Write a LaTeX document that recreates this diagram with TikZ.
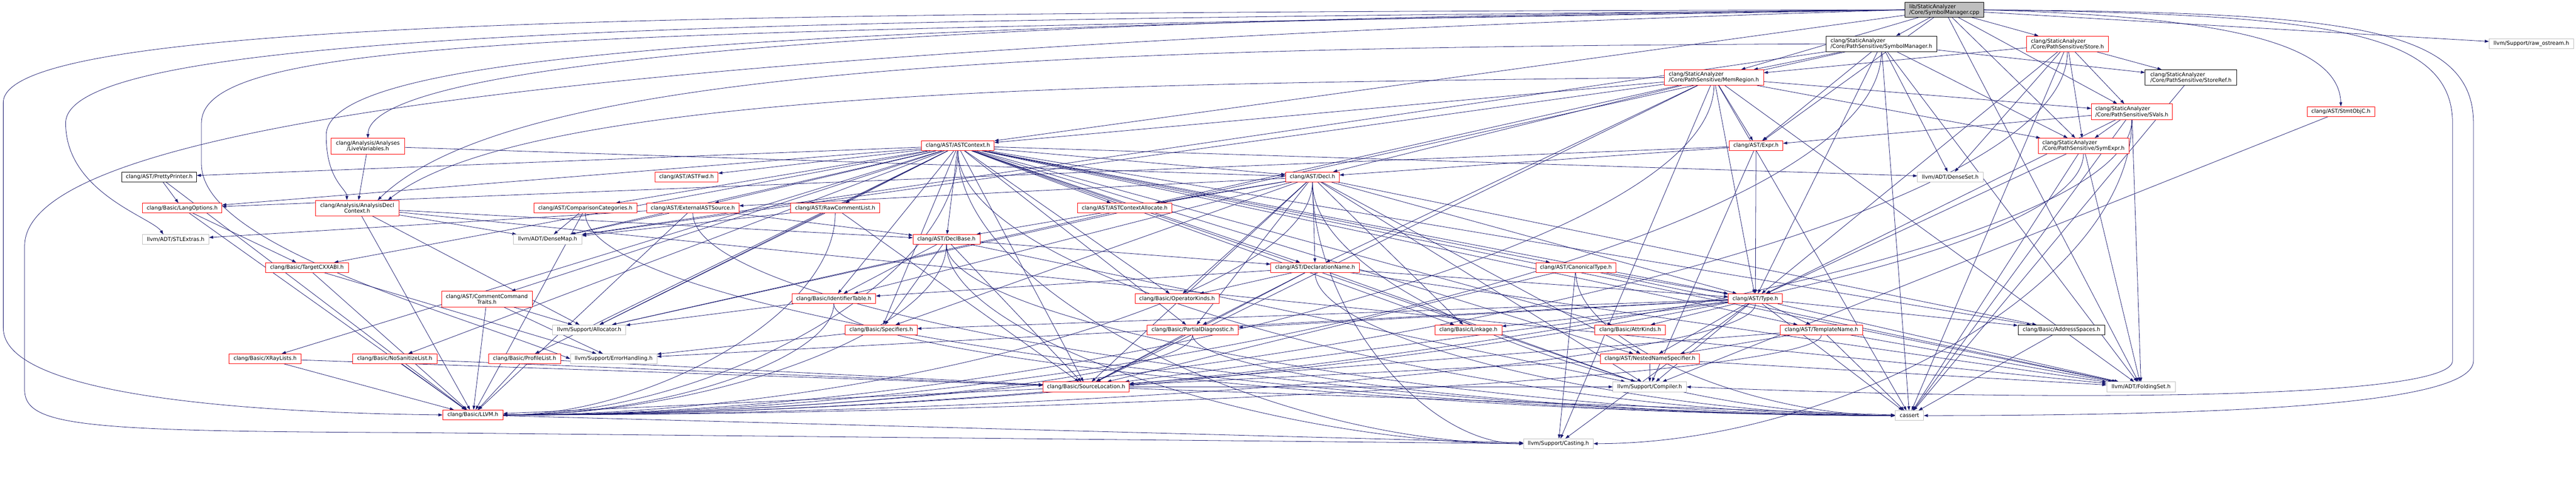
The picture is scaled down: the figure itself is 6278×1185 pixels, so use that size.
\documentclass[tikz,border=0pt]{standalone}
\usepackage{fontspec}
\setmainfont{DejaVu Sans}
\usetikzlibrary{arrows.meta}
\definecolor{edgec}{HTML}{191970}
\definecolor{grayb}{HTML}{BFBFBF}
\pgfdeclarelayer{bg}
\pgfsetlayers{bg,main}
\tikzset{
 nd/.style={rectangle, draw, line width=1pt, fill=white, inner sep=0pt, minimum height=24pt, font=\fontsize{13}{14}\selectfont},
 rn/.style={nd, draw=red},
 bn/.style={nd, draw=black},
 gn/.style={nd, draw=grayb},
 two/.style={minimum height=38pt, align=center},
 twol/.style={minimum height=38pt, align=left},
 e/.style={draw=edgec, line width=1pt, -{Triangle[length=10pt,width=7pt]}},
}
% #1 source, #2 target anchor, #3 drop below source, #4 signed horizontal lead into target
\newcommand\cv[4]{\draw[e] (#1.south) .. controls ([yshift=-#3pt]#1.south) and ([xshift=#4pt]#2) .. (#2);}
\begin{document}
\begin{tikzpicture}[x=1pt,y=-1pt]
\useasboundingbox (0,0) rectangle (6278,1185);
% nodes
\node[nd, fill=grayb, draw=black, twol, minimum height=36pt, minimum width=191pt] (root) at (4738.5,24) {lib/StaticAnalyzer\\/Core/SymbolManager.cpp};
\node[bn, twol, minimum width=270pt] (symmgrh) at (4585,107) {clang/StaticAnalyzer\\/Core/PathSensitive/SymbolManager.h};
\node[rn, twol, minimum width=199pt] (store) at (5038.5,107) {clang/StaticAnalyzer\\/Core/PathSensitive/Store.h};
\node[gn, minimum width=206pt] (rawos) at (6169,107) {llvm/Support/raw\_ostream.h};
\node[rn, twol, minimum width=242pt] (memregion) at (4177,189) {clang/StaticAnalyzer\\/Core/PathSensitive/MemRegion.h};
\node[bn, twol, minimum width=223pt] (storeref) at (5339.5,189) {clang/StaticAnalyzer\\/Core/PathSensitive/StoreRef.h};
\node[rn, twol, minimum width=197pt] (svals) at (5195.5,272.5) {clang/StaticAnalyzer\\/Core/PathSensitive/SVals.h};
\node[rn, minimum width=164pt] (stmtobjc) at (5705,272) {clang/AST/StmtObjC.h};
\node[rn, two, minimum width=179pt] (livevars) at (896.5,356.5) {clang/Analysis/Analyses\\/LiveVariables.h};
\node[rn, minimum width=177pt] (astctx) at (2334.5,355.5) {clang/AST/ASTContext.h};
\node[rn, minimum width=131pt] (expr) at (4279.5,355.5) {clang/AST/Expr.h};
\node[rn, twol, minimum width=221pt] (symexpr) at (5077.5,356) {clang/StaticAnalyzer\\/Core/PathSensitive/SymExpr.h};
\node[bn, minimum width=182pt] (pretty) at (388,431.5) {clang/AST/PrettyPrinter.h};
\node[rn, minimum width=154pt] (astfwd) at (1673,431.5) {clang/AST/ASTFwd.h};
\node[rn, minimum width=131pt] (decl) at (3198.5,431.5) {clang/AST/Decl.h};
\node[gn, minimum width=160pt] (denseset) at (4753,431.5) {llvm/ADT/DenseSet.h};
\node[rn, minimum width=194pt] (langopts) at (444,507.5) {clang/Basic/LangOptions.h};
\node[rn, two, minimum width=203pt] (adc) at (870.5,507.5) {clang/Analysis/AnalysisDecl\\Context.h};
\node[rn, minimum width=251pt] (cmpcat) at (1426.5,507.5) {clang/AST/ComparisonCategories.h};
\node[rn, minimum width=225pt] (extast) at (1688.5,507.5) {clang/AST/ExternalASTSource.h};
\node[rn, minimum width=217pt] (rawcomment) at (2035.5,507.5) {clang/AST/RawCommentList.h};
\node[rn, minimum width=230pt] (astalloc) at (2741,507.5) {clang/AST/ASTContextAllocate.h};
\node[gn, minimum width=162pt] (stlextras) at (428,584) {llvm/ADT/STLExtras.h};
\node[gn, minimum width=167pt] (densemap) at (1334.5,584) {llvm/ADT/DenseMap.h};
\node[rn, minimum width=163pt] (declbase) at (2306.5,584) {clang/AST/DeclBase.h};
\node[rn, minimum width=202pt] (tcxxabi) at (748,652.5) {clang/Basic/TargetCXXABI.h};
\node[rn, minimum width=216pt] (declname) at (3205,652.5) {clang/AST/DeclarationName.h};
\node[rn, minimum width=195pt] (canon) at (3840.5,652.5) {clang/AST/CanonicalType.h};
\node[rn, two, minimum width=221pt] (cct) at (1186.5,729.5) {clang/AST/CommentCommand\\Traits.h};
\node[rn, minimum width=204pt] (idtable) at (2032,728.5) {clang/Basic/IdentifierTable.h};
\node[rn, minimum width=205pt] (opkinds) at (2868.5,728.5) {clang/Basic/OperatorKinds.h};
\node[rn, minimum width=132pt] (type) at (4278,728.5) {clang/AST/Type.h};
\node[gn, minimum width=178pt] (allocator) at (1436,804.5) {llvm/Support/Allocator.h};
\node[rn, minimum width=175pt] (specifiers) at (2147.5,804.5) {clang/Basic/Specifiers.h};
\node[rn, minimum width=223pt] (pdiag) at (2906.5,804.5) {clang/Basic/PartialDiagnostic.h};
\node[rn, minimum width=163pt] (linkage) at (3578.5,804.5) {clang/Basic/Linkage.h};
\node[rn, minimum width=172pt] (attrkinds) at (3973,804.5) {clang/Basic/AttrKinds.h};
\node[rn, minimum width=202pt] (tname) at (4439,804.5) {clang/AST/TemplateName.h};
\node[bn, minimum width=212pt] (addrsp) at (5024,804.5) {clang/Basic/AddressSpaces.h};
\node[rn, minimum width=176pt] (xray) at (646,875) {clang/Basic/XRayLists.h};
\node[rn, minimum width=206pt] (nosan) at (962,875) {clang/Basic/NoSanitizeList.h};
\node[rn, minimum width=175pt] (proflist) at (1278.5,875) {clang/Basic/ProfileList.h};
\node[gn, minimum width=211pt] (errh) at (1495.5,875) {llvm/Support/ErrorHandling.h};
\node[rn, minimum width=242pt] (nns) at (4021,875) {clang/AST/NestedNameSpecifier.h};
\node[rn, minimum width=210pt] (srcloc) at (2647,943.5) {clang/Basic/SourceLocation.h};
\node[gn, minimum width=179pt] (compiler) at (4020.5,943.5) {llvm/Support/Compiler.h};
\node[gn, minimum width=168pt] (folding) at (5218,943.5) {llvm/ADT/FoldingSet.h};
\node[rn, minimum width=147pt] (llvmh) at (1152.5,1012) {clang/Basic/LLVM.h};
\node[gn, minimum width=69pt] (cassert) at (4653.5,1013.5) {cassert};
\node[gn, minimum width=170pt] (casting) at (3798,1082) {llvm/Support/Casting.h};
% edges
\begin{pgfonlayer}{bg}
\fill[white] (0,0) rectangle (6278,1185);
% root
\foreach \t in {symmgrh,store,memregion,expr,astctx,svals,symexpr,folding,rawos} \draw[e] (root) -- (\t);
\draw[e] (root.west) .. controls (2500,40) and (900,130) .. (livevars.north);
\draw[e] (root.west) .. controls (2000,60) and (795,120) .. (795,330) .. controls (795,440) and (845,460) .. ([xshift=-25pt]adc.north);
\draw[e] (root.west) .. controls (2000,50) and (160,60) .. (160,300) .. controls (160,470) and (370,530) .. ([xshift=-30pt]stlextras.north);
\draw[e] (root.west) .. controls (1800,30) and (8,40) .. (8,250) -- (8,800) .. controls (8,950) and (500,1005) .. (llvmh.west);
\draw[e] (root.west) .. controls (1500,120) and (60,300) .. (60,600) -- (60,950) .. controls (60,1040) and (200,1052) .. (1000,1055) -- (casting.west);
\draw[e] (root.west) .. controls (1500,80) and (491,80) .. (491,300) -- (491,400) .. controls (491,600) and (1100,760) .. (errh.west);
\draw[e] (root.east) .. controls (5700,30) and (6028,60) .. (6028,300) -- (6028,880) .. controls (6028,990) and (5400,1013) .. (cassert.east);
\draw[e] (root.east) .. controls (5650,35) and (5977,70) .. (5977,300) -- (5977,880) .. controls (5977,975) and (5000,980) .. (compiler.east);
\draw[e] (root.east) .. controls (5400,40) and (5700,100) .. (stmtobjc.north);
% SymbolManager.h
\foreach \t in {expr,type,memregion,storeref,symexpr,densemap,denseset,folding,allocator,cassert} \draw[e] (symmgrh) -- (\t);
\draw[e] (symmgrh.west) .. controls (2500,115) and (1250,170) .. ([xshift=50pt]adc.north);
\cv{symmgrh}{llvmh.east}{450}{1500}
% Store.h
\foreach \t in {type,memregion,svals,storeref,symexpr,denseset,cassert} \draw[e] (store) -- (\t);
\cv{store}{llvmh.east}{450}{1700}
% MemRegion.h
\foreach \t in {astctx,decl,declname,expr,type,srcloc,svals,symexpr,densemap,folding,allocator,casting,cassert} \draw[e] (memregion) -- (\t);
\draw[e] (memregion.west) .. controls (2800,205) and (1300,210) .. ([xshift=75pt]adc.north);
\cv{memregion}{llvmh.east}{400}{1300}
\draw[e] (storeref) -- (cassert);
% SVals.h
\foreach \t in {expr,type,symexpr,folding,cassert} \draw[e] (svals) -- (\t);
\cv{svals}{llvmh.east}{360}{1800}
\cv{svals}{casting.east}{400}{600}
% SymExpr.h
\foreach \t in {type,folding,cassert} \draw[e] (symexpr) -- (\t);
\cv{symexpr}{llvmh.east}{320}{1700}
\draw[e] (stmtobjc) -- (compiler);
\foreach \t in {decl,adc} \draw[e] (livevars) -- (\t);
\foreach \t in {declbase,llvmh,densemap,folding,allocator} \draw[e] (adc) -- (\t);
\foreach \t in {decl,type,langopts,compiler} \draw[e] (expr) -- (\t);
% ASTContext.h
\foreach \t in {astalloc,astfwd,canon,cct,cmpcat,decl,declbase,declname,extast,nns,pretty,rawcomment,tname,type,addrsp,attrkinds,idtable,langopts,linkage,nosan,opkinds,pdiag,proflist,srcloc,specifiers,tcxxabi,xray,densemap,denseset,folding,allocator,compiler} \draw[e] (astctx) -- (\t);
\cv{astctx}{llvmh.east}{320}{500}
\cv{astctx}{cassert.west}{320}{-1000}
\cv{astctx}{casting.west}{350}{-600}
% Decl.h
\foreach \t in {astalloc,declbase,declname,extast,nns,type,addrsp,idtable,linkage,opkinds,pdiag,srcloc,specifiers,compiler} \draw[e] (decl) -- (\t);
\cv{decl}{llvmh.east}{280}{900}
\cv{decl}{cassert.west}{280}{-600}
\cv{decl}{casting.west}{300}{-250}
% DeclBase.h
\foreach \t in {declname,idtable,srcloc,specifiers,compiler} \draw[e] (declbase) -- (\t);
\cv{declbase}{llvmh.east}{210}{500}
\cv{declbase}{cassert.west}{200}{-1000}
\cv{declbase}{casting.west}{230}{-600}
% DeclarationName.h
\foreach \t in {type,idtable,opkinds,pdiag,srcloc,folding,compiler} \draw[e] (declname) -- (\t);
\cv{declname}{cassert.west}{170}{-600}
% CanonicalType.h
\foreach \t in {type,srcloc,folding,casting} \draw[e] (canon) -- (\t);
\cv{canon}{cassert.west}{170}{-350}
% Type.h
\foreach \t in {nns,tname,addrsp,attrkinds,linkage,pdiag,srcloc,specifiers,folding,casting,compiler,errh,cassert} \draw[e] (type) -- (\t);
\cv{type}{llvmh.east}{140}{1400}
% TemplateName.h
\foreach \t in {nns,srcloc,folding,cassert} \draw[e] (tname) -- (\t);
\cv{tname}{llvmh.east}{100}{1400}
\foreach \t in {srcloc,folding,compiler} \draw[e] (nns) -- (\t);
\draw[e] (addrsp) -- (cassert);
% PartialDiagnostic.h
\draw[e] (pdiag) -- (srcloc);
\cv{pdiag}{llvmh.east}{100}{800}
\cv{pdiag}{cassert.west}{100}{-800}
\foreach \t in {llvmh,compiler,cassert} \draw[e] (srcloc) -- (\t);
% IdentifierTable.h
\draw[e] (idtable) -- (allocator);
\cv{idtable}{llvmh.east}{130}{400}
\cv{idtable}{cassert.west}{130}{-1100}
\draw[e] (specifiers) -- (errh);
\foreach \t in {llvmh,tcxxabi} \draw[e] (langopts) -- (\t);
\foreach \t in {llvmh,errh} \draw[e] (tcxxabi) -- (\t);
\foreach \t in {langopts,llvmh} \draw[e] (pretty) -- (\t);
\foreach \t in {llvmh,srcloc} \draw[e] (xray) -- (\t);
\foreach \t in {llvmh,srcloc} \draw[e] (nosan) -- (\t);
\foreach \t in {llvmh,srcloc} \draw[e] (proflist) -- (\t);
\foreach \t in {llvmh,allocator,errh} \draw[e] (cct) -- (\t);
\foreach \t in {llvmh,densemap} \draw[e] (cmpcat) -- (\t);
\cv{cmpcat}{cassert.west}{250}{-1400}
\foreach \t in {declbase,llvmh,densemap,stlextras} \draw[e] (extast) -- (\t);
\cv{extast}{cassert.west}{250}{-1300}
\foreach \t in {srcloc,densemap,allocator} \draw[e] (rawcomment) -- (\t);
\cv{rawcomment}{llvmh.east}{250}{350}
\draw[e] (llvmh) -- (casting);
\end{pgfonlayer}
\end{tikzpicture}
\end{document}
